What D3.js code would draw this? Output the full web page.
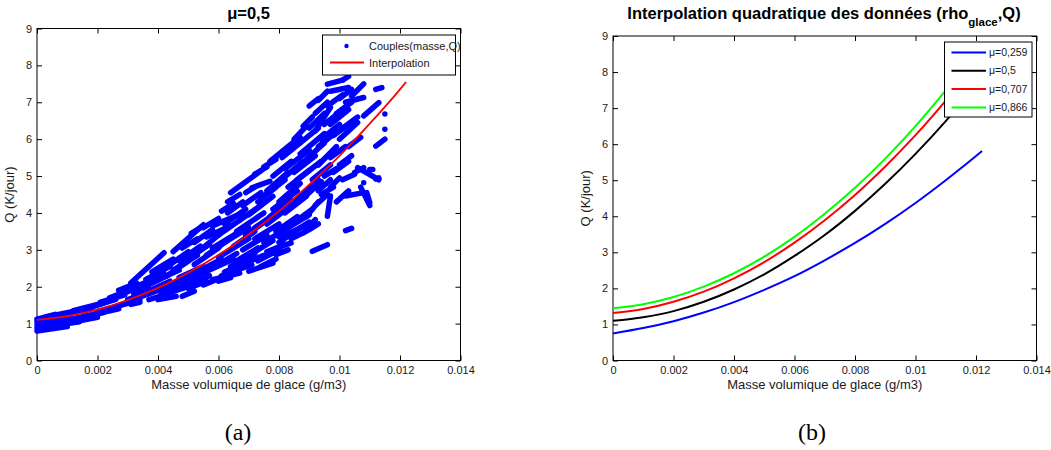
<!DOCTYPE html>
<html>
<head>
<meta charset="utf-8">
<script src="https://cdn.jsdelivr.net/npm/d3@7"></script>
<style>
  body { margin: 0; background: #fff; }
  svg { display: block; }
</style>
</head>
<body>
<svg id="fig" width="1051" height="450"></svg>
<script>
// tick values shared by both panels
const xTicks = [0, 0.002, 0.004, 0.006, 0.008, 0.01, 0.012, 0.014];
const yTicks = [0, 1, 2, 3, 4, 5, 6, 7, 8, 9];

// x positions where the fitted curves were read
const fitX = [0, 0.001, 0.002, 0.003, 0.004, 0.005, 0.006, 0.007, 0.008, 0.009, 0.010, 0.011, 0.012, 0.0122];

// (a) red interpolation, mu = 0.5
const fitQ = [1.10, 1.20, 1.38, 1.64, 1.97, 2.38, 2.86, 3.42, 4.05, 4.77, 5.55, 6.42, 7.35, 7.55];

// (b) quadratic fits for each mu
const mu259 = [0.75, 0.90, 1.09, 1.33, 1.62, 1.96, 2.34, 2.78, 3.26, 3.79, 4.37, 5.00, 5.67, 5.81];
const mu05  = [1.10, 1.20, 1.37, 1.63, 1.97, 2.39, 2.90, 3.48, 4.15, 4.90, 5.73, 6.64, 7.64, 7.85];
const mu707 = [1.32, 1.43, 1.63, 1.91, 2.28, 2.73, 3.27, 3.89, 4.59, 5.38, 6.25, 7.21, 8.25, 8.47];
const mu866 = [1.45, 1.56, 1.76, 2.05, 2.42, 2.88, 3.43, 4.07, 4.79, 5.60, 6.50, 7.49, 8.56, 8.79];
const muLabels = ['\u03bc=0,259', '\u03bc=0,5', '\u03bc=0,707', '\u03bc=0,866'];
const muColors = ['#0000ff', '#000000', '#ff0000', '#00ff00'];

// (a) couples (masse, Q): runs of points as [x1, Q1, x2, Q2]
const couples = [
  [0.0000, 0.80, 0.0010, 0.92], [0.0000, 0.88, 0.0014, 1.05], [0.0000, 0.97, 0.0012, 1.14],
  [0.0000, 1.05, 0.0009, 1.20], [0.0000, 1.12, 0.0006, 1.25], [0.0003, 1.18, 0.0012, 1.33],
  [0.0008, 0.98, 0.0020, 1.17], [0.0010, 1.10, 0.0022, 1.30], [0.0009, 1.25, 0.0018, 1.42],
  [0.0012, 1.35, 0.0020, 1.52], [0.0016, 1.20, 0.0027, 1.40], [0.0018, 1.45, 0.0026, 1.66],
  [0.0020, 1.33, 0.0030, 1.55], [0.0021, 1.58, 0.0029, 1.78], [0.0024, 1.70, 0.0031, 1.92],
  [0.0026, 1.45, 0.0034, 1.70], [0.0031, 1.52, 0.0034, 1.58],
  [0.0028, 1.80, 0.0038, 2.15], [0.0030, 1.65, 0.0040, 1.95], [0.0031, 2.10, 0.0042, 2.92],
  [0.0033, 1.90, 0.0043, 2.30], [0.0035, 1.75, 0.0045, 2.05], [0.0036, 2.20, 0.0044, 2.55],
  [0.0040, 1.65, 0.0046, 1.74], [0.0042, 1.95, 0.0052, 2.40], [0.0043, 2.30, 0.0050, 2.70],
  [0.0044, 2.60, 0.0050, 2.95], [0.0045, 2.95, 0.0055, 3.68], [0.0047, 2.70, 0.0054, 3.10],
  [0.0048, 1.74, 0.0052, 1.88], [0.0046, 2.10, 0.0056, 2.40], [0.0050, 2.15, 0.0058, 2.55],
  [0.0052, 2.60, 0.0060, 3.05], [0.0054, 3.00, 0.0060, 3.40], [0.0058, 2.19, 0.0067, 2.37],
  [0.0057, 2.45, 0.0065, 2.75], [0.0056, 3.35, 0.0064, 3.65], [0.0058, 3.65, 0.0068, 4.00],
  [0.0060, 2.80, 0.0070, 3.30], [0.0062, 3.20, 0.0070, 3.60], [0.0064, 4.55, 0.0074, 5.14],
  [0.0064, 2.55, 0.0072, 2.90], [0.0066, 3.50, 0.0075, 4.00], [0.0068, 3.00, 0.0076, 3.40],
  [0.0070, 2.42, 0.0078, 2.64], [0.0070, 3.95, 0.0078, 4.45], [0.0071, 4.68, 0.0077, 4.86],
  [0.0072, 3.30, 0.0080, 3.70], [0.0073, 2.70, 0.0080, 3.00], [0.0074, 4.40, 0.0082, 4.90],
  [0.0076, 3.70, 0.0084, 4.20], [0.0077, 5.40, 0.0086, 6.00], [0.0079, 2.87, 0.0083, 3.00],
  [0.0078, 4.10, 0.0086, 4.60], [0.0080, 3.20, 0.0087, 3.60], [0.0081, 3.10, 0.0084, 3.19],
  [0.0080, 4.85, 0.0088, 5.40], [0.0082, 5.20, 0.0090, 5.70], [0.0083, 3.60, 0.0090, 3.95],
  [0.0088, 3.46, 0.0092, 3.82], [0.0085, 4.30, 0.0093, 4.90], [0.0086, 4.90, 0.0094, 5.40],
  [0.0087, 5.60, 0.0095, 6.15], [0.0091, 2.96, 0.0096, 3.14], [0.0092, 6.22, 0.0097, 6.86],
  [0.0093, 5.30, 0.0099, 5.80], [0.0094, 6.00, 0.0100, 6.40], [0.0096, 3.91, 0.0097, 4.46],
  [0.0094, 4.50, 0.0098, 4.70], [0.0096, 7.49, 0.0101, 7.60], [0.0097, 7.30, 0.0103, 7.40],
  [0.0097, 6.40, 0.0103, 6.80], [0.0098, 5.10, 0.0103, 5.40], [0.0099, 4.30, 0.0103, 4.60],
  [0.0100, 6.00, 0.0106, 6.45], [0.0101, 7.60, 0.0103, 7.70], [0.0102, 7.00, 0.0108, 7.13],
  [0.0102, 4.46, 0.0108, 4.55], [0.0102, 3.52, 0.0104, 3.58], [0.0103, 5.80, 0.0107, 6.05],
  [0.0104, 7.17, 0.0108, 7.50], [0.0105, 5.10, 0.0108, 5.23], [0.0108, 6.63, 0.0113, 6.99],
  [0.0108, 4.82, 0.0108, 4.82], [0.0109, 4.55, 0.0110, 4.28], [0.0110, 5.18, 0.0111, 5.18],
  [0.0112, 7.35, 0.0114, 7.40], [0.0112, 5.81, 0.0115, 6.00], [0.0112, 4.92, 0.0113, 4.95],
  [0.0115, 6.68, 0.0115, 6.68], [0.0115, 6.27, 0.0115, 6.27], [0.0106, 5.23, 0.0113, 4.90],
  [0.0107, 4.70, 0.0110, 4.20],
  // denser core of the cloud
  [0.0034, 2.05, 0.0042, 2.35], [0.0036, 1.85, 0.0044, 2.15], [0.0038, 2.40, 0.0045, 2.75],
  [0.0039, 2.15, 0.0047, 2.45], [0.0041, 1.80, 0.0049, 2.05], [0.0045, 2.45, 0.0053, 2.85],
  [0.0047, 2.25, 0.0055, 2.55], [0.0049, 2.00, 0.0057, 2.30], [0.0050, 2.75, 0.0057, 3.15],
  [0.0052, 3.20, 0.0058, 3.55], [0.0053, 2.40, 0.0061, 2.75], [0.0056, 2.85, 0.0063, 3.25],
  [0.0058, 3.05, 0.0066, 3.45], [0.0059, 2.55, 0.0066, 2.90], [0.0060, 3.40, 0.0067, 3.80],
  [0.0061, 2.30, 0.0068, 2.55], [0.0062, 3.70, 0.0069, 4.10], [0.0063, 4.00, 0.0068, 4.30],
  [0.0065, 3.10, 0.0072, 3.50], [0.0066, 2.70, 0.0073, 3.05], [0.0067, 3.80, 0.0074, 4.20],
  [0.0068, 4.20, 0.0074, 4.55], [0.0069, 3.40, 0.0076, 3.80], [0.0071, 2.90, 0.0078, 3.25],
  [0.0072, 3.60, 0.0079, 4.00], [0.0073, 4.30, 0.0079, 4.70], [0.0075, 3.20, 0.0082, 3.55],
  [0.0076, 4.60, 0.0083, 5.10], [0.0077, 3.90, 0.0084, 4.35], [0.0078, 5.00, 0.0084, 5.40],
  [0.0079, 3.50, 0.0086, 3.90], [0.0080, 4.30, 0.0087, 4.80], [0.0081, 5.50, 0.0087, 5.90],
  [0.0082, 4.00, 0.0089, 4.45], [0.0083, 4.70, 0.0090, 5.15], [0.0085, 5.10, 0.0092, 5.55],
  [0.0086, 3.80, 0.0091, 4.10], [0.0087, 5.90, 0.0093, 6.30], [0.0088, 4.40, 0.0094, 4.85],
  [0.0089, 5.45, 0.0095, 5.90], [0.0090, 6.30, 0.0095, 6.70], [0.0091, 4.90, 0.0097, 5.30],
  [0.0092, 6.70, 0.0096, 7.00], [0.0093, 5.80, 0.0099, 6.20], [0.0095, 6.40, 0.0101, 6.80],
  [0.0096, 6.90, 0.0101, 7.20], [0.0097, 5.50, 0.0102, 5.80], [0.0098, 6.10, 0.0103, 6.40],
  [0.0099, 6.70, 0.0104, 7.00], [0.0100, 7.10, 0.0104, 7.35], [0.0101, 6.30, 0.0106, 6.60],
  [0.0097, 4.70, 0.0100, 4.95],
  // shorter runs filling the gaps
  [0.0044, 1.85, 0.0050, 2.00], [0.0050, 1.95, 0.0056, 2.15], [0.0055, 2.05, 0.0061, 2.25],
  [0.0060, 2.15, 0.0064, 2.25], [0.0062, 2.40, 0.0069, 2.65], [0.0066, 2.45, 0.0071, 2.60],
  [0.0069, 2.65, 0.0075, 2.85], [0.0074, 2.55, 0.0079, 2.75], [0.0076, 2.95, 0.0082, 3.15],
  [0.0080, 3.35, 0.0086, 3.55], [0.0084, 3.30, 0.0089, 3.50], [0.0086, 3.55, 0.0090, 3.75],
  [0.0089, 3.90, 0.0093, 4.30], [0.0090, 3.55, 0.0093, 3.70], [0.0092, 4.20, 0.0096, 4.50],
  [0.0093, 4.60, 0.0097, 4.90], [0.0095, 5.00, 0.0099, 5.20], [0.0100, 5.30, 0.0104, 5.55],
  [0.0101, 4.90, 0.0105, 5.05], [0.0048, 3.05, 0.0053, 3.30], [0.0051, 3.45, 0.0055, 3.65],
  [0.0055, 3.60, 0.0060, 3.85], [0.0061, 4.05, 0.0065, 4.25], [0.0063, 4.30, 0.0067, 4.50],
  [0.0069, 4.55, 0.0072, 4.70], [0.0072, 5.05, 0.0076, 5.25], [0.0075, 5.25, 0.0079, 5.45],
  [0.0083, 5.75, 0.0087, 6.05], [0.0085, 6.00, 0.0089, 6.35], [0.0088, 6.35, 0.0091, 6.60],
  [0.0090, 6.90, 0.0093, 7.10], [0.0093, 7.05, 0.0096, 7.30], [0.0037, 1.65, 0.0043, 1.80],
  [0.0032, 1.80, 0.0037, 1.95], [0.0027, 1.90, 0.0033, 2.10], [0.0029, 1.55, 0.0034, 1.65]
];

const svg = d3.select('#fig');
const sans = '"Liberation Sans", Arial, sans-serif';

function makePanel(left, top, right, bottom) {
  const x = d3.scaleLinear().domain([0, 0.014]).range([left, right]);
  const y = d3.scaleLinear().domain([0, 9]).range([bottom, top]);
  const g = svg.append('g');
  const fmt = (d) => String(+d.toFixed(3));

  g.append('g').attr('transform', `translate(0,${bottom})`)
    .call(d3.axisBottom(x).tickValues(xTicks).tickSize(-5).tickPadding(6).tickFormat(fmt));
  g.append('g').attr('transform', `translate(0,${top})`)
    .call(d3.axisTop(x).tickValues(xTicks).tickSize(-5).tickFormat(''));
  g.append('g').attr('transform', `translate(${left},0)`)
    .call(d3.axisLeft(y).tickValues(yTicks).tickSize(-5).tickPadding(5));
  g.append('g').attr('transform', `translate(${right},0)`)
    .call(d3.axisRight(y).tickValues(yTicks).tickSize(-5).tickFormat(''));

  g.selectAll('.domain').remove();
  g.selectAll('.tick line').attr('stroke', '#000');
  g.selectAll('.tick text').attr('font-size', 11).attr('fill', '#1a1a1a')
    .attr('font-family', sans);

  g.append('rect')
    .attr('x', left).attr('y', top)
    .attr('width', right - left).attr('height', bottom - top)
    .attr('fill', 'none').attr('stroke', '#000');

  g.append('text')
    .attr('x', (left + right) / 2).attr('y', 389)
    .attr('text-anchor', 'middle').attr('font-size', 13).attr('fill', '#1a1a1a')
    .attr('font-family', sans)
    .text('Masse volumique de glace (g/m3)');
  g.append('text')
    .attr('transform', `translate(${left - 23},${(top + bottom) / 2}) rotate(-90)`)
    .attr('text-anchor', 'middle').attr('font-size', 13).attr('fill', '#1a1a1a')
    .attr('font-family', sans)
    .text('Q (K/jour)');

  return { x, y, g };
}

// ---------- (a) ----------
const a = makePanel(37, 28.5, 460.5, 360.5);

a.g.append('g')
  .selectAll('line')
  .data(couples)
  .join('line')
  .attr('x1', (d) => a.x(d[0]))
  .attr('y1', (d) => a.y(d[1]))
  .attr('x2', (d) => a.x(d[2]))
  .attr('y2', (d) => a.y(d[3]))
  .attr('stroke', '#0000ff')
  .attr('stroke-width', 5.5)
  .attr('stroke-linecap', 'round');

a.g.append('path')
  .datum(fitX.map((v, i) => [v, fitQ[i]]))
  .attr('fill', 'none')
  .attr('stroke', '#ff0000')
  .attr('stroke-width', 1.8)
  .attr('d', d3.line().x((d) => a.x(d[0])).y((d) => a.y(d[1])).curve(d3.curveMonotoneX));

a.g.append('text')
  .attr('x', 248.5).attr('y', 19)
  .attr('text-anchor', 'middle').attr('font-size', 16.5).attr('font-weight', 'bold')
  .attr('font-family', sans)
  .text('\u03bc=0,5');

const legA = a.g.append('g');
legA.append('rect')
  .attr('x', 322.5).attr('y', 35).attr('width', 133).attr('height', 40)
  .attr('fill', '#fff').attr('stroke', '#000');
legA.append('circle')
  .attr('cx', 346.5).attr('cy', 46).attr('r', 2.2).attr('fill', '#0000ff');
legA.append('line')
  .attr('x1', 330).attr('x2', 364).attr('y1', 62.5).attr('y2', 62.5)
  .attr('stroke', '#ff0000').attr('stroke-width', 1.8);
legA.selectAll('text')
  .data(['Couples(masse,Q)', 'Interpolation'])
  .join('text')
  .attr('x', 369)
  .attr('y', (d, i) => 50 + i * 16.5)
  .attr('font-size', 11).attr('fill', '#1a1a1a').attr('font-family', sans)
  .text((d) => d);

// ---------- (b) ----------
const b = makePanel(613, 36, 1036.5, 360.5);

[mu259, mu05, mu707, mu866].forEach((serie, k) => {
  b.g.append('path')
    .datum(fitX.map((v, i) => [v, serie[i]]))
    .attr('fill', 'none')
    .attr('stroke', muColors[k])
    .attr('stroke-width', 2)
    .attr('d', d3.line().x((d) => b.x(d[0])).y((d) => b.y(d[1])).curve(d3.curveMonotoneX));
});

const titleB = b.g.append('text')
  .attr('x', 824).attr('y', 19)
  .attr('text-anchor', 'middle').attr('font-size', 16.5).attr('font-weight', 'bold')
  .attr('font-family', sans);
titleB.append('tspan').text('Interpolation quadratique des donn\u00e9es (rho');
titleB.append('tspan').attr('dy', 7).attr('font-size', 11.5).text('glace');
titleB.append('tspan').attr('dy', -7).text(',Q)');

const legB = b.g.append('g');
legB.append('rect')
  .attr('x', 944.5).attr('y', 42).attr('width', 87.5).attr('height', 75)
  .attr('fill', '#fff').attr('stroke', '#000');
legB.selectAll('line')
  .data(muLabels)
  .join('line')
  .attr('x1', 951.5).attr('x2', 986)
  .attr('y1', (d, i) => 52.5 + i * 18.3).attr('y2', (d, i) => 52.5 + i * 18.3)
  .attr('stroke', (d, i) => muColors[i]).attr('stroke-width', 2);
legB.selectAll('text')
  .data(muLabels)
  .join('text')
  .attr('x', 989)
  .attr('y', (d, i) => 56 + i * 18.3)
  .attr('font-size', 10.5).attr('fill', '#1a1a1a').attr('font-family', sans)
  .text((d) => d);

// ---------- captions ----------
svg.selectAll('text.cap')
  .data([['(a)', 238], ['(b)', 812]])
  .join('text')
  .attr('class', 'cap')
  .attr('x', (d) => d[1]).attr('y', 440)
  .attr('text-anchor', 'middle')
  .attr('font-family', '"Liberation Serif", "DejaVu Serif", serif')
  .attr('font-size', 24)
  .text((d) => d[0]);
</script>
</body>
</html>
